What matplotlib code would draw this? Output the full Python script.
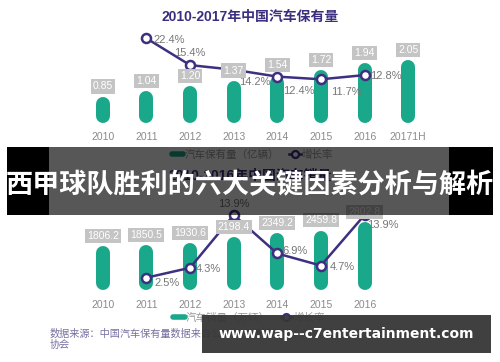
import matplotlib
matplotlib.use('Agg')
import matplotlib.pyplot as plt
from matplotlib.lines import Line2D
from matplotlib.patches import Rectangle

plt.rcParams['font.family'] = ['Liberation Sans', 'Noto Sans CJK SC', 'DejaVu Sans']

# data
years_top = ['2010', '2011', '2012', '2013', '2014', '2015', '2016', '20171H']
stock = [0.85, 1.04, 1.20, 1.37, 1.54, 1.72, 1.94, 2.05]  # 亿辆
stock_growth = [None, 22.4, 15.4, 14.2, 12.4, 11.7, 12.8, None]  # %

years_bot = ['2010', '2011', '2012', '2013', '2014', '2015', '2016']
sales = [1806.2, 1850.5, 1930.6, 2198.4, 2349.2, 2459.8, 2802.8]  # 万辆
sales_growth = [None, 2.5, 4.3, 13.9, 6.9, 4.7, 13.9]  # %

title_top = '2010-2017年中国汽车保有量'
title_bot = '2010-2016年中国汽车销量'
legend_top = ['汽车保有量（亿辆）', '增长率']
legend_bot = ['汽车销量（万辆）', '增长率']
source = ['数据来源：中国汽车保有量数据来自公安部交通管理局，汽车销量数据来自中国汽车工业', '协会']
banner = '西甲球队胜利的六大关键因素分析与解析'
site = 'www.wap--c7entertainment.com'

# label offsets for the growth rates (points)
off_top = [None, (5, -1), (0, 9), (4, -9), (4, -10), (7, -9), (4, -1), None]
off_bot = [None, (6, -4), (4, -1), (0, 8), (4, 2), (6, -1), (2, -7)]

GREEN = '#1aa88a'
PURPLE = '#3f2f80'
BOXGRAY = '#c4c4c4'
TICKGRAY = '#8a8a8a'

W, H, DPI = 500, 362, 100
fig = plt.figure(figsize=(W / DPI, H / DPI), dpi=DPI)


def make_chart(rect, cats, vals, growth, ylim, glim, offsets, fmt, pad):
    ax = fig.add_axes(rect)
    ax2 = ax.twinx()
    n = len(cats)
    xs = list(range(n))
    ax.set_xlim(-0.5, 7.5)
    ax.set_ylim(*ylim)
    ax2.set_ylim(*glim)
    for a in (ax, ax2):
        for s in a.spines.values():
            s.set_visible(False)
        a.set_yticks([])
    ax.set_xticks(xs)
    ax.set_xticklabels(cats)
    ax.tick_params(axis='x', length=0, pad=pad, labelsize=7.5, labelcolor=TICKGRAY)

    # capsule-shaped bars
    bar_px = 14
    px_h = rect[3] * H
    r = (ylim[1] - ylim[0]) / px_h * bar_px / 2
    ax.vlines(xs, [r] * n, [v - r for v in vals], colors=GREEN,
              linewidth=bar_px * 72 / DPI, capstyle='round')

    gx = [i for i, g in enumerate(growth) if g is not None]
    gy = [g for g in growth if g is not None]
    ax2.plot(gx, gy, color=PURPLE, lw=1.8, marker='o', ms=6.5,
             mfc='white', mec=PURPLE, mew=1.8, zorder=2)

    for i, v in enumerate(vals):
        ax2.annotate(fmt.format(v), xy=(i, v), xycoords=ax.transData,
                     xytext=(0, 7.5), textcoords='offset points',
                     ha='center', va='center', fontsize=7.5, color='white',
                     bbox=dict(boxstyle='square,pad=0.2', fc=BOXGRAY, ec='none'),
                     zorder=5)
    for i, g in enumerate(growth):
        if g is None:
            continue
        dx, dy = offsets[i]
        ax2.annotate(f'{g}%', xy=(i, g), xytext=(dx, dy),
                     textcoords='offset points',
                     ha='center' if dx == 0 else 'left', va='center',
                     fontsize=8, color='#777777', zorder=4)
    return ax, ax2


make_chart([81 / W, 1 - 123 / H, 349 / W, 93 / H], years_top, stock, stock_growth,
           (0, 3.03), (0.29, 24.57), off_top, '{:.2f}', 6.5)
make_chart([81 / W, 1 - 290 / H, 349 / W, 95 / H], years_bot, sales, sales_growth,
           (0, 3942), (0.26, 17.54), off_bot, '{:.1f}', 7)

fig.text(0.5, 1 - 17 / H, title_top, ha='center', va='center', fontsize=10,
         fontweight='bold', color='#3b2e7e')
fig.text(0.5, 1 - 176 / H, title_bot, ha='center', va='center', fontsize=10,
         fontweight='bold', color='#3b2e7e')


def legend(labels, center):
    handles = [Line2D([], [], color=GREEN, lw=4, solid_capstyle='round'),
               Line2D([], [], color=PURPLE, lw=1.8, marker='o', ms=5,
                      mfc='white', mec=PURPLE, mew=1.6)]
    fig.legend(handles, labels, loc='center', bbox_to_anchor=center,
               bbox_transform=fig.transFigure, ncol=2, frameon=False,
               fontsize=7.6, labelcolor='#9a9a9a', handlelength=1.1,
               handletextpad=0.1, columnspacing=1.0)


legend(legend_top, (0.505, 1 - 155 / H))
legend(legend_bot, (0.498, 1 - 318 / H))

for k, line in enumerate(source):
    fig.text(50 / W, 1 - (334 + 11 * k) / H, line, ha='left', va='center',
             fontsize=7.3, color='#7a6fa0')

# overlay banner
fig.patches.append(Rectangle((7 / W, 1 - 215 / H), 42 / W, 68 / H,
                             transform=fig.transFigure, fc='black', ec='none', zorder=10))
fig.patches.append(Rectangle((449 / W, 1 - 215 / H), 44 / W, 68 / H,
                             transform=fig.transFigure, fc='black', ec='none', zorder=10))
fig.patches.append(Rectangle((49 / W, 1 - 215 / H), 400 / W, 68 / H,
                             transform=fig.transFigure, fc='black', ec='none',
                             alpha=0.66, zorder=10))
fig.text(0.5, 1 - 185 / H, banner, ha='center', va='center', fontsize=19.5,
         fontweight='bold', color='white', family=['Noto Sans CJK SC'], zorder=11)

# site watermark
fig.patches.append(Rectangle((202 / W, 1 - 353 / H), 289 / W, 38 / H,
                             transform=fig.transFigure, fc='#363636', ec='none',
                             alpha=0.95, zorder=10))
fig.text(346 / W, 1 - 334 / H, site, ha='center', va='center', fontsize=10,
         fontweight='bold', color='white', family=['DejaVu Sans'], zorder=11)

fig.savefig('out.png', dpi=DPI)
